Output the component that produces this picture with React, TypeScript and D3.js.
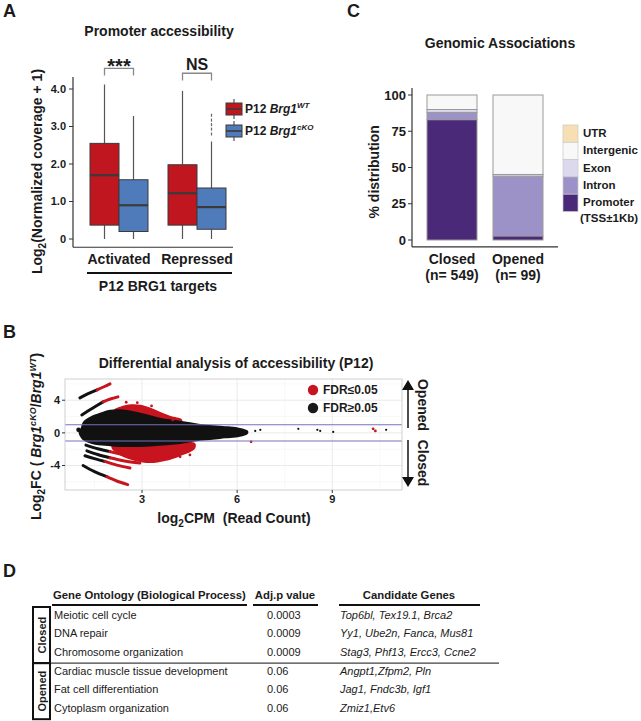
import React from 'react';
import * as d3 from 'd3';

const FONT = "'Liberation Sans', Arial, Helvetica, sans-serif";
const INK = '#1b1b1b';

// ===== Panel A: promoter accessibility (box plots) =====
const aGroups = ['Activated', 'Repressed'];
const aConditions = ['WT', 'cKO'];
const aBoxGroup = ['Activated', 'Activated', 'Repressed', 'Repressed'];
const aBoxCond = ['WT', 'cKO', 'WT', 'cKO'];
const aLow = [0, 0, 0, 0];
const aQ1 = [0.37, 0.2, 0.37, 0.26];
const aMedian = [1.7, 0.9, 1.22, 0.85];
const aQ3 = [2.55, 1.58, 1.98, 1.36];
const aHigh = [4.12, 3.28, 3.95, 2.6];
const aOutliers = [[], [], [], [2.8, 2.93, 3.05, 3.17, 3.3]];
const aTicks = [0, 1, 2, 3, 4];
const aSigText = ['***', 'NS'];
const aSigHeight = [4.55, 4.42];
const aLegendCond = ['WT', 'cKO'];

// ===== Panel B: differential accessibility (MA plot) =====
const bXTicks = [3, 6, 9];
const bYTicks = [-4, 0, 4];
const bXMinor = [1.5, 4.5, 7.5, 10.5];
const bYMinor = [-6, -2, 2, 6];
const bThreshold = [1, -1];
const bCloudTop = [[1.0, 0.0], [1.07, 0.6], [1.14, 1.35], [1.36, 1.96], [1.67, 2.45], [1.99, 2.82], [2.30, 2.9], [2.62, 2.75], [3.09, 2.33], [3.56, 1.84], [4.20, 1.47], [4.83, 1.10], [5.46, 0.86], [6.09, 0.61], [6.34, 0.25]];
const bCloudBottom = [[1.07, -0.6], [1.17, -0.98], [1.42, -1.35], [1.83, -1.59], [2.30, -1.72], [2.93, -1.72], [3.56, -1.59], [4.20, -1.35], [4.83, -0.98], [5.46, -0.74], [6.09, -0.49], [6.34, -0.12]];
const bRedHighInner = [[2.1, 2.6], [2.62, 2.5], [3.25, 2.0], [3.88, 1.45], [4.26, 1.3]];
const bRedHighOuter = [[2.1, 2.8], [2.35, 3.25], [2.65, 3.5], [2.95, 3.45], [3.25, 3.1], [3.56, 2.6], [3.88, 2.1], [4.26, 1.65]];
const bRedLowInner = [[2.05, -1.5], [2.62, -1.62], [3.56, -1.5], [4.67, -1.25]];
const bRedLowOuter = [[2.05, -1.95], [2.30, -2.75], [2.78, -3.45], [3.25, -3.7], [3.72, -3.45], [4.20, -2.85], [4.67, -1.95]];
const bStreaksBlack = [
  [[1.04, 4.29], [1.3, 4.8], [1.58, 5.27]],
  [[1.1, 2.2], [1.45, 3.05], [1.77, 3.8]],
  [[1.23, -1.5], [1.6, -1.95], [1.99, -2.3]],
  [[1.26, -2.2], [1.6, -2.65], [1.99, -3.05]],
  [[1.2, -2.8], [1.5, -3.15], [1.83, -3.5]],
  [[1.14, -4.0], [1.5, -4.75], [1.89, -5.37]],
];
const bStreaksRed = [
  [[1.58, 5.27], [1.8, 5.65], [1.99, 6.0]],
  [[1.77, 3.8], [2.0, 4.15], [2.24, 4.41]],
  [[1.99, -2.3], [2.5, -2.75], [3.1, -3.1]],
  [[1.99, -3.05], [2.45, -3.45], [2.93, -3.7]],
  [[1.83, -3.5], [2.2, -3.95], [2.62, -4.3]],
  [[1.89, -5.37], [2.2, -5.9], [2.55, -6.34]],
];
const bPointsBlack = [[1.0, 0.37], [6.31, 0.12], [6.57, 0.24], [6.73, 0.37], [7.93, 0.49], [8.53, 0.37], [8.62, 0.24], [9.03, 0.12], [10.7, 0.37]];
const bPointsRed = [[10.29, 0.49], [10.36, 0.24], [6.44, -1.1], [3.88, -3.06], [4.2, -2.94], [4.51, -2.7], [3.79, 1.96], [3.97, 1.59], [2.5, 3.75], [2.85, 3.7], [3.3, 3.3], [4.45, -2.3]];
const bLegendLabels = ['FDR\u22640.05', 'FDR\u22650.05'];
const bLegendColors = ['#c8141e', '#1a1a1a'];
const bSides = ['Opened', 'Closed'];

// ===== Panel C: genomic associations (stacked bars) =====
const cCats = ['Closed', 'Opened'];
const cCounts = ['(n= 549)', '(n= 99)'];
const cKeys = ['Promoter', 'Intron', 'Exon', 'Intergenic', 'UTR'];
const cPromoter = [83, 2.8];
const cIntron = [5, 41.2];
const cExon = [2, 1.2];
const cIntergenic = [10, 54.8];
const cUTR = [0, 0];
const cTicks = [0, 25, 50, 75, 100];
const cLegendKeys = ['UTR', 'Intergenic', 'Exon', 'Intron', 'Promoter'];
const cColors: Record<string, string> = {
  Promoter: '#4a2a78', Intron: '#9d92c8', Exon: '#dcd9ec', Intergenic: '#f8f8f8', UTR: '#f6dfb3',
};

// ===== Panel D: GO table =====
const dHeaders = ['Gene Ontology (Biological Process)', 'Adj.p value', 'Candidate Genes'];
const dGroups = ['Closed', 'Opened'];
const dTermGroup = [0, 0, 0, 1, 1, 1];
const dTerms = ['Meiotic cell cycle', 'DNA repair', 'Chromosome organization', 'Cardiac muscle tissue development', 'Fat cell differentiation', 'Cytoplasm organization'];
const dAdjP = ['0.0003', '0.0009', '0.0009', '0.06', '0.06', '0.06'];
const dGenes = ['Top6bl, Tex19.1, Brca2', 'Yy1, Ube2n, Fanca, Mus81', 'Stag3, Phf13, Ercc3, Ccne2', 'Angpt1,Zfpm2, Pln', 'Jag1, Fndc3b, Igf1', 'Zmiz1,Etv6'];

function PanelA() {
  const yA = d3.scaleLinear().domain([0, 4]).range([239, 89]);
  const xA = d3.scaleBand().domain(aGroups).range([80, 236]);
  const xSub = d3.scaleBand().domain(aConditions).range([-29, 29]);
  const bw = xSub.bandwidth();
  const fill: Record<string, string> = { WT: '#c0161f', cKO: '#4f7bbb' };
  const boxX = (i: number) => (xA(aBoxGroup[i]) as number) + xA.bandwidth() / 2 + (xSub(aBoxCond[i]) as number);
  const fmt = d3.format('.1f');
  const axisX = 73;
  return (
    <g>
      <text x={3} y={17} fontSize={18} fontWeight="bold" fill={INK}>A</text>
      <text x={159} y={36} fontSize={14} fontWeight="bold" textAnchor="middle" fill={INK}>Promoter accessibility</text>
      <line x1={axisX} x2={axisX} y1={yA(-0.22)} y2={yA(4.32)} stroke="#333" strokeWidth={1.2} />
      {aTicks.map((t) => (
        <g key={t}>
          <line x1={axisX - 4} x2={axisX} y1={yA(t)} y2={yA(t)} stroke="#333" />
          <text x={axisX - 7} y={yA(t)} dy="0.36em" fontSize={11} fontWeight="bold" textAnchor="end" fill={INK}>{t === 0 ? '0' : fmt(t)}</text>
        </g>
      ))}
      <line x1={axisX} x2={233} y1={yA(-0.22)} y2={yA(-0.22)} stroke="#333" strokeWidth={1.2} />
      <text transform={`translate(42,${yA(1.8)}) rotate(-90)`} fontSize={14} fontWeight="bold" textAnchor="middle" fill={INK}>
        Log<tspan dy={4} fontSize={10}>2</tspan><tspan dy={-4}>(Normalized coverage + 1)</tspan>
      </text>
      {aBoxGroup.map((g, i) => {
        const x0 = boxX(i);
        const cx = x0 + bw / 2;
        return (
          <g key={i}>
            <line x1={cx} x2={cx} y1={yA(aHigh[i])} y2={yA(aQ3[i])} stroke="#555" strokeWidth={1.2} />
            <line x1={cx} x2={cx} y1={yA(aQ1[i])} y2={yA(aLow[i])} stroke="#555" strokeWidth={1.2} />
            <rect x={x0} y={yA(aQ3[i])} width={bw} height={yA(aQ1[i]) - yA(aQ3[i])} fill={fill[aBoxCond[i]]} stroke="#3a3a3a" strokeWidth={1} />
            <line x1={x0} x2={x0 + bw} y1={yA(aMedian[i])} y2={yA(aMedian[i])} stroke="#3a3a3a" strokeWidth={2.2} />
            {aOutliers[i].map((o, k) => (
              <rect key={k} x={cx - 0.6} y={yA(o) - 1.5} width={1.2} height={3} fill="#666" />
            ))}
          </g>
        );
      })}
      {aGroups.map((g, gi) => {
        const x1 = boxX(gi * 2) + bw / 2;
        const x2 = boxX(gi * 2 + 1) + bw / 2;
        const h = aSigHeight[gi];
        return (
          <g key={g}>
            <path d={`M${x1},${yA(h - 0.19)}V${yA(h)}H${x2}V${yA(h - 0.19)}`} fill="none" stroke="#888" strokeWidth={1.3} />
            <text x={(x1 + x2) / 2} y={gi === 0 ? 73 : 70} fontSize={gi === 0 ? 20 : 16} fontWeight="bold" textAnchor="middle" fill={INK}>{aSigText[gi]}</text>
          </g>
        );
      })}
      {aGroups.map((g) => (
        <text key={g} x={(xA(g) as number) + xA.bandwidth() / 2} y={264} fontSize={14} fontWeight="bold" textAnchor="middle" fill={INK}>{g}</text>
      ))}
      <line x1={87} x2={232} y1={273} y2={273} stroke="#111" strokeWidth={2} />
      <text x={158} y={291} fontSize={14} fontWeight="bold" textAnchor="middle" fill={INK}>P12 BRG1 targets</text>
      {aLegendCond.map((c, i) => {
        const top = 103 + i * 22;
        return (
          <g key={c}>
            <line x1={234} x2={234} y1={top - 4} y2={top + 16} stroke="#555" strokeWidth={1.2} />
            <rect x={226} y={top} width={16} height={12} fill={fill[c]} stroke="#3a3a3a" strokeWidth={1} />
            <line x1={226} x2={242} y1={top + 6} y2={top + 6} stroke="#3a3a3a" strokeWidth={1.6} />
            <text x={245} y={top + 10} fontSize={12} fontWeight="bold" fill={INK}>
              P12 <tspan fontStyle="italic">Brg1</tspan><tspan fontStyle="italic" fontSize={8} dy={-5}>{c}</tspan>
            </text>
          </g>
        );
      })}
    </g>
  );
}

function PanelB() {
  const xB = d3.scaleLinear().domain([0.57, 11.2]).range([65, 402]);
  const yB = d3.scaleLinear().domain([-7, 6.6]).range([490, 379]);
  const [x0, x1] = xB.range();
  const [y0, y1] = yB.range();
  const line = d3.line<number[]>().x((d) => xB(d[0])).y((d) => yB(d[1])).curve(d3.curveCatmullRom);
  const closed = d3.line<number[]>().x((d) => xB(d[0])).y((d) => yB(d[1])).curve(d3.curveCatmullRomClosed);
  const cloud = closed([...bCloudTop, ...bCloudBottom.slice().reverse()]);
  const redHigh = closed([...bRedHighOuter, ...bRedHighInner.slice().reverse()]);
  const redLow = closed([...bRedLowInner, ...bRedLowOuter.slice().reverse()]);
  return (
    <g>
      <text x={3} y={338} fontSize={18} fontWeight="bold" fill={INK}>B</text>
      <text x={236} y={368} fontSize={14} fontWeight="bold" textAnchor="middle" fill={INK}>Differential analysis of accessibility (P12)</text>
      <rect x={x0} y={y1} width={x1 - x0} height={y0 - y1} fill="#fff" />
      {bXMinor.map((v) => <line key={'xm' + v} x1={xB(v)} x2={xB(v)} y1={y1} y2={y0} stroke="#f3f3f3" strokeWidth={0.6} />)}
      {bYMinor.map((v) => <line key={'ym' + v} x1={x0} x2={x1} y1={yB(v)} y2={yB(v)} stroke="#f3f3f3" strokeWidth={0.6} />)}
      {bXTicks.map((v) => <line key={'xg' + v} x1={xB(v)} x2={xB(v)} y1={y1} y2={y0} stroke="#e8e8e8" strokeWidth={0.9} />)}
      {bYTicks.map((v) => <line key={'yg' + v} x1={x0} x2={x1} y1={yB(v)} y2={yB(v)} stroke="#e8e8e8" strokeWidth={0.9} />)}
      <path d={redHigh as string} fill="#c8141e" />
      <path d={redLow as string} fill="#c8141e" />
      <path d={cloud as string} fill="#111" />
      {bStreaksBlack.map((s, i) => <path key={'sb' + i} d={line(s) as string} fill="none" stroke="#111" strokeWidth={3} strokeLinecap="round" />)}
      {bStreaksRed.map((s, i) => <path key={'sr' + i} d={line(s) as string} fill="none" stroke="#c8141e" strokeWidth={3} strokeLinecap="round" />)}
      {bPointsBlack.map((p, i) => <circle key={'pb' + i} cx={xB(p[0])} cy={yB(p[1])} r={i === 0 ? 2.4 : 1.1} fill="#111" />)}
      {bPointsRed.map((p, i) => <circle key={'pr' + i} cx={xB(p[0])} cy={yB(p[1])} r={1.4} fill="#c8141e" />)}
      {bThreshold.map((v) => <line key={'th' + v} x1={x0} x2={x1} y1={yB(v)} y2={yB(v)} stroke="#7772b8" strokeWidth={1.1} />)}
      <rect x={x0} y={y1} width={x1 - x0} height={y0 - y1} fill="none" stroke="#cfcfcf" strokeWidth={1} />
      {bYTicks.map((v) => (
        <g key={'yt' + v}>
          <line x1={x0 - 3} x2={x0} y1={yB(v)} y2={yB(v)} stroke="#333" />
          <text x={x0 - 5} y={yB(v)} dy="0.36em" fontSize={11} fontWeight="bold" textAnchor="end" fill={INK}>{v}</text>
        </g>
      ))}
      {bXTicks.map((v) => (
        <g key={'xt' + v}>
          <line x1={xB(v)} x2={xB(v)} y1={y0} y2={y0 + 3} stroke="#333" />
          <text x={xB(v)} y={y0 + 13} fontSize={11} fontWeight="bold" textAnchor="middle" fill={INK}>{v}</text>
        </g>
      ))}
      <text x={234} y={523} fontSize={14} fontWeight="bold" textAnchor="middle" fill={INK} style={{ whiteSpace: 'pre' }}>
        log<tspan dy={4} fontSize={10}>2</tspan><tspan dy={-4}>{'CPM  (Read Count)'}</tspan>
      </text>
      <text transform={`translate(41,${(y0 + y1) / 2 + 2}) rotate(-90)`} fontSize={14} fontWeight="bold" textAnchor="middle" fill={INK} style={{ whiteSpace: 'pre' }}>
        Log<tspan dy={4} fontSize={10}>2</tspan><tspan dy={-4}>{'FC ( '}</tspan><tspan fontStyle="italic">Brg1</tspan><tspan dy={-5} fontSize={9} fontStyle="italic">cKO</tspan><tspan dy={5}>/</tspan><tspan fontStyle="italic">Brg1</tspan><tspan dy={-5} fontSize={9} fontStyle="italic">WT</tspan><tspan dy={5}>)</tspan>
      </text>
      {bLegendLabels.map((l, i) => (
        <g key={l}>
          <circle cx={313} cy={390 + i * 18} r={5.2} fill={bLegendColors[i]} />
          <text x={323} y={394 + i * 18} fontSize={12} fontWeight="bold" fill={INK}>{l}</text>
        </g>
      ))}
      <line x1={408} x2={408} y1={428} y2={388} stroke="#111" strokeWidth={1.5} />
      <path d="M402,390 L408,380 L414,390 Z" fill="#111" />
      <line x1={408} x2={408} y1={440} y2={479} stroke="#111" strokeWidth={1.5} />
      <path d="M402,477 L408,487 L414,477 Z" fill="#111" />
      <text transform="translate(418,405) rotate(90)" fontSize={14} fontWeight="bold" textAnchor="middle" fill={INK}>{bSides[0]}</text>
      <text transform="translate(418,463) rotate(90)" fontSize={14} fontWeight="bold" textAnchor="middle" fill={INK}>{bSides[1]}</text>
    </g>
  );
}

function PanelC() {
  const yC = d3.scaleLinear().domain([0, 100]).range([240, 95]);
  const xC = d3.scalePoint().domain(cCats).range([452, 518]);
  const barW = 50;
  const rows = cCats.map((c, i) => ({
    cat: c, Promoter: cPromoter[i], Intron: cIntron[i], Exon: cExon[i], Intergenic: cIntergenic[i], UTR: cUTR[i],
  }));
  const series = d3.stack<any>().keys(cKeys)(rows);
  const axisX = 412;
  return (
    <g>
      <text x={347} y={17} fontSize={18} fontWeight="bold" fill={INK}>C</text>
      <text x={500} y={48} fontSize={14} fontWeight="bold" textAnchor="middle" fill={INK}>Genomic Associations</text>
      <line x1={axisX} x2={axisX} y1={yC(-4.8)} y2={yC(104.8)} stroke="#333" strokeWidth={1.2} />
      <line x1={axisX} x2={558} y1={yC(-4.8)} y2={yC(-4.8)} stroke="#333" strokeWidth={1.2} />
      {cTicks.map((t) => (
        <g key={t}>
          <line x1={axisX - 4} x2={axisX} y1={yC(t)} y2={yC(t)} stroke="#333" />
          <text x={axisX - 6} y={yC(t)} dy="0.36em" fontSize={13} fontWeight="bold" textAnchor="end" fill={INK}>{t}</text>
        </g>
      ))}
      <text transform={`translate(379,${yC(47)}) rotate(-90)`} fontSize={14} fontWeight="bold" textAnchor="middle" fill={INK}>% distribution</text>
      {series.map((s) => (
        <g key={s.key}>
          {s.map((d, i) => (d[1] - d[0] > 0 ? (
            <rect key={i} x={(xC(cCats[i]) as number) - barW / 2} y={yC(d[1])} width={barW} height={yC(d[0]) - yC(d[1])} fill={cColors[s.key]} stroke="#9a9a9a" strokeWidth={1} />
          ) : null))}
        </g>
      ))}
      {cCats.map((c, i) => (
        <g key={c}>
          <text x={xC(c)} y={264} fontSize={14} fontWeight="bold" textAnchor="middle" fill={INK}>{c}</text>
          <text x={xC(c)} y={280} fontSize={14} fontWeight="bold" textAnchor="middle" fill={INK}>{cCounts[i]}</text>
        </g>
      ))}
      {cLegendKeys.map((k, i) => (
        <g key={k}>
          <rect x={563} y={125 + i * 17.3} width={15} height={17.3} fill={cColors[k]} stroke="#c8c8c8" strokeWidth={0.7} />
          <text x={583} y={125 + i * 17.3 + 12} fontSize={11.5} fontWeight="bold" fill={INK}>{k}</text>
        </g>
      ))}
      <text x={580} y={222} fontSize={11.5} fontWeight="bold" fill={INK}>(TSS±1Kb)</text>
    </g>
  );
}

function PanelD() {
  const rowY = d3.scaleLinear().domain([0, 5]).range([618.5, 712]);
  const step = rowY(1) - rowY(0);
  return (
    <g>
      <text x={3} y={577} fontSize={18} fontWeight="bold" fill={INK}>D</text>
      <text x={53} y={599} fontSize={11.3} fontWeight="bold" fill={INK}>{dHeaders[0]}</text>
      <text x={285} y={599} fontSize={11.3} fontWeight="bold" textAnchor="middle" fill={INK}>{dHeaders[1]}</text>
      <text x={409} y={599} fontSize={11.3} fontWeight="bold" textAnchor="middle" fill={INK}>{dHeaders[2]}</text>
      <line x1={52} x2={247} y1={605} y2={605} stroke="#111" strokeWidth={2} />
      <line x1={253} x2={318} y1={605} y2={605} stroke="#111" strokeWidth={2} />
      <line x1={339} x2={480} y1={605} y2={605} stroke="#111" strokeWidth={2} />
      {dGroups.map((g, gi) => {
        const idx = dTermGroup.map((v, i) => (v === gi ? i : -1)).filter((v) => v >= 0);
        const top = rowY(idx[0]) - 11.5;
        const bottom = rowY(idx[idx.length - 1]) + step - 11.5;
        return (
          <g key={g}>
            <rect x={33} y={top} width={17} height={bottom - top} fill="none" stroke="#111" strokeWidth={2} />
            <text transform={`translate(45.5,${(top + bottom) / 2}) rotate(-90)`} fontSize={11} fontWeight="bold" textAnchor="middle" fill={INK}>{g}</text>
          </g>
        );
      })}
      <line x1={50} x2={499} y1={rowY(3) - 11.5} y2={rowY(3) - 11.5} stroke="#111" strokeWidth={1} />
      {dTerms.map((t, i) => (
        <g key={t}>
          <text x={54} y={rowY(i)} fontSize={11} fill={INK}>{t}</text>
          <text x={267} y={rowY(i)} fontSize={11} fill={INK}>{dAdjP[i]}</text>
          <text x={340} y={rowY(i)} fontSize={11} fontStyle="italic" fill={INK}>{dGenes[i]}</text>
        </g>
      ))}
    </g>
  );
}

export default function App() {
  return (
    <svg width={641} height={721} style={{ position: 'absolute', left: 0, top: 0, background: '#fff' }} fontFamily={FONT}>
      <rect width={641} height={721} fill="#fff" />
      <PanelA />
      <PanelB />
      <PanelC />
      <PanelD />
    </svg>
  );
}
